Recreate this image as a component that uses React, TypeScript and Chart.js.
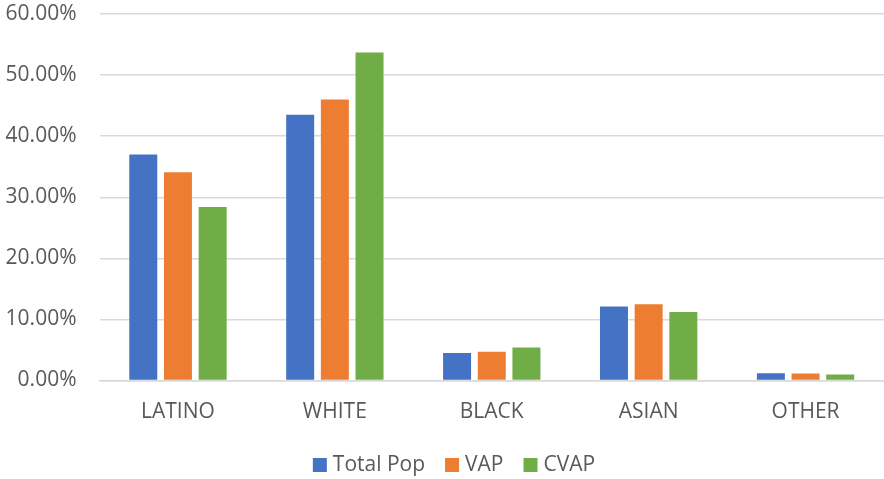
import React, { useEffect, useRef } from "react";
import { Chart, registerables } from "chart.js";

Chart.register(...registerables);

const categories = ["LATINO", "WHITE", "BLACK", "ASIAN", "OTHER"];
const seriesNames = ["Total Pop", "VAP", "CVAP"];
const totalPop = [37.0, 43.5, 4.5, 12.1, 1.2];
const vap = [34.1, 46.0, 4.7, 12.5, 1.15];
const cvap = [28.4, 53.7, 5.4, 11.2, 1.0];
const seriesColors = ["#4472C4", "#ED7D31", "#70AD47"];
const yTicks = [0, 10, 20, 30, 40, 50, 60];

const FONT = '"Open Sans", "Noto Sans", sans-serif';
const TEXT = "#595959";

const customLegend = {
  id: "customLegend",
  afterDraw(chart: any) {
    const ctx = chart.ctx;
    ctx.save();
    ctx.font = `21px ${FONT}`;
    const box = 14;
    const gap = 6;
    const spacing = 20;
    const items = chart.data.datasets.map((d: any) => ({
      text: d.label,
      color: d.backgroundColor,
      w: box + gap + ctx.measureText(d.label).width,
    }));
    const total = items.reduce((s: number, it: any) => s + it.w, 0) + spacing * (items.length - 1);
    let x = 454 - total / 2;
    const cy = 465;
    ctx.textBaseline = "middle";
    ctx.textAlign = "left";
    for (const it of items) {
      ctx.fillStyle = it.color;
      ctx.fillRect(x, cy - box / 2, box, box);
      ctx.fillStyle = TEXT;
      ctx.fillText(it.text, x + box + gap, cy);
      x += it.w + spacing;
    }
    ctx.restore();
  },
};

export default function App() {
  const ref = useRef<HTMLCanvasElement | null>(null);
  useEffect(() => {
    if (!ref.current) return;
    const data = [totalPop, vap, cvap];
    const chart = new Chart(ref.current, {
      type: "bar",
      data: {
        labels: categories,
        datasets: seriesNames.map((name, i) => ({
          label: name,
          data: data[i],
          backgroundColor: seriesColors[i],
          borderWidth: 0,
          categoryPercentage: 0.663,
          barPercentage: 0.807,
        })),
      },
      options: {
        animation: false,
        responsive: true,
        maintainAspectRatio: false,
        layout: { padding: { top: 14, left: 0, right: 0, bottom: 0 } },
        plugins: {
          legend: { display: false },
          tooltip: { enabled: false },
        },
        scales: {
          x: {
            grid: { display: false, drawTicks: false },
            border: { display: true, color: "#D9D9D9", width: 1.5 },
            ticks: {
              color: TEXT,
              font: { family: FONT, size: 21 },
              padding: 19,
            },
            afterFit: (scale: any) => {
              scale.height = 98.5;
            },
          },
          y: {
            min: 0,
            max: 60,
            afterBuildTicks: (scale: any) => {
              scale.ticks = yTicks.map((v) => ({ value: v }));
            },
            grid: {
              color: "#D9D9D9",
              lineWidth: 1.5,
              drawTicks: true,
              tickLength: 23,
              tickColor: "rgba(0,0,0,0)",
            },
            border: { display: false },
            ticks: {
              color: TEXT,
              font: { family: FONT, size: 21 },
              padding: 0,
              callback: (v: any) => Number(v).toFixed(2) + "%",
            },
            afterFit: (scale: any) => {
              scale.width = 99.5;
            },
          },
        },
      },
      plugins: [customLegend],
    });
    return () => chart.destroy();
  }, []);
  return (
    <div style={{ position: "absolute", left: 0, top: 0, width: 884, height: 479, background: "#fff" }}>
      <canvas ref={ref} />
    </div>
  );
}
